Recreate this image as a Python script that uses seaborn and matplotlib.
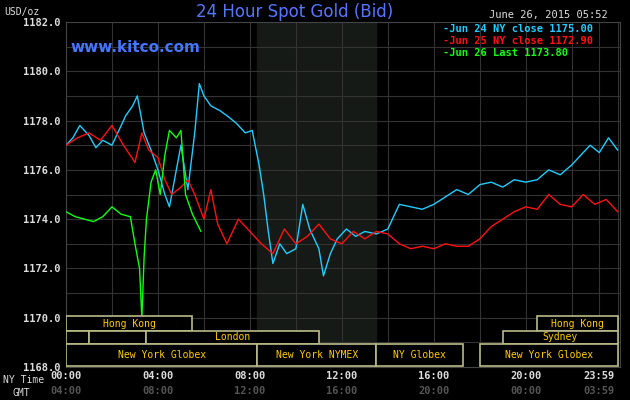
import matplotlib
matplotlib.use("Agg")
import matplotlib.pyplot as plt
import seaborn as sns
import pandas as pd

sns.set_style("dark")
plt.rcParams['font.family'] = ['DejaVu Sans Mono', 'DejaVu Sans']

# hours since 00:00 NY time, price
jun24_t = [0, 0.3, 0.6, 1.0, 1.3, 1.6, 2.0, 2.3, 2.6, 2.9, 3.1, 3.4, 3.7, 4.0, 4.3, 4.5, 4.8, 5.0, 5.3, 5.6, 5.8, 6.0,
           6.3, 6.7, 7.0, 7.4, 7.8, 8.1, 8.4, 8.6, 8.8, 9.0, 9.3, 9.6, 10.0, 10.3, 10.6, 11.0, 11.2, 11.5, 11.8, 12.2,
           12.6, 13.0, 13.5, 14.0, 14.5, 15.0, 15.5, 16.0, 16.5, 17.0, 17.5, 18.0, 18.5, 19.0, 19.5, 20.0, 20.5,
           21.0, 21.5, 22.0, 22.4, 22.8, 23.2, 23.6, 24.0]
jun24_p = [1177.0, 1177.3, 1177.8, 1177.4, 1176.9, 1177.2, 1177.0, 1177.6, 1178.2, 1178.6, 1179.0, 1177.5, 1176.8,
           1176.0, 1175.0, 1174.5, 1176.0, 1177.0, 1175.2, 1177.5, 1179.5, 1179.0, 1178.6, 1178.4, 1178.2, 1177.9,
           1177.5, 1177.6, 1176.2, 1175.0, 1173.5, 1172.2, 1173.0, 1172.6, 1172.8, 1174.6, 1173.6, 1172.8, 1171.7,
           1172.6, 1173.2, 1173.6, 1173.3, 1173.5, 1173.4, 1173.6, 1174.6, 1174.5, 1174.4, 1174.6, 1174.9, 1175.2,
           1175.0, 1175.4, 1175.5, 1175.3, 1175.6, 1175.5, 1175.6, 1176.0, 1175.8, 1176.2, 1176.6, 1177.0, 1176.7,
           1177.3, 1176.8]
jun25_t = [0, 0.5, 1.0, 1.5, 2.0, 2.5, 3.0, 3.3, 3.6, 4.0, 4.3, 4.6, 5.0, 5.3, 5.6, 6.0, 6.3, 6.6, 7.0, 7.5, 8.0,
           8.5, 9.0, 9.5, 10.0, 10.5, 11.0, 11.5, 12.0, 12.5, 13.0, 13.5, 14.0, 14.5, 15.0, 15.5, 16.0, 16.5,
           17.0, 17.5, 18.0, 18.5, 19.0, 19.5, 20.0, 20.5, 21.0, 21.5, 22.0, 22.5, 23.0, 23.5, 24.0]
jun25_p = [1177.0, 1177.3, 1177.5, 1177.2, 1177.8, 1177.0, 1176.3, 1177.5, 1176.8, 1176.5, 1175.6, 1175.0, 1175.3,
           1175.6, 1175.0, 1174.0, 1175.2, 1173.8, 1173.0, 1174.0, 1173.5, 1173.0, 1172.6, 1173.6, 1173.0, 1173.3,
           1173.8, 1173.2, 1173.0, 1173.5, 1173.2, 1173.5, 1173.4, 1173.0, 1172.8, 1172.9, 1172.8, 1173.0, 1172.9,
           1172.9, 1173.2, 1173.7, 1174.0, 1174.3, 1174.5, 1174.4, 1175.0, 1174.6, 1174.5, 1175.0, 1174.6, 1174.8,
           1174.3]
jun26_t = [0, 0.4, 0.8, 1.2, 1.6, 2.0, 2.4, 2.8, 3.0, 3.2, 3.3, 3.4, 3.5, 3.7, 3.9, 4.1, 4.3, 4.5, 4.8, 5.0,
           5.2, 5.5, 5.87]
jun26_p = [1174.3, 1174.1, 1174.0, 1173.9, 1174.1, 1174.5, 1174.2, 1174.1, 1173.0, 1172.0, 1170.0, 1172.5, 1174.0,
           1175.5, 1176.0, 1175.0, 1176.6, 1177.6, 1177.3, 1177.6, 1175.0, 1174.2, 1173.5]

legend_labels = ["Jun 24 NY close 1175.00", "Jun 25 NY close 1172.90", "Jun 26 Last 1173.80"]
colors = ["#22ccff", "#ff1111", "#11ff11"]

# session bands: (row, start, end, label)
sessions = [(0, 0, 5.5, "Hong Kong"), (0, 20.5, 24, "Hong Kong"),
            (1, 0, 1, ""), (1, 1, 3.5, ""), (1, 3.5, 11, "London"), (1, 19, 24, "Sydney"),
            (2, 0, 8.33, "New York Globex"), (2, 8.33, 13.5, "New York NYMEX"),
            (2, 13.5, 17.25, "NY Globex"), (2, 18, 24, "New York Globex")]

ny_ticks = [0, 4, 8, 12, 16, 20, 23.2]
ny_labels = ["00:00", "04:00", "08:00", "12:00", "16:00", "20:00", "23:59"]
gmt_labels = ["04:00", "08:00", "12:00", "16:00", "20:00", "00:00", "03:59"]

fig = plt.figure(figsize=(6.3, 4.0), dpi=100, facecolor="black")
ax = fig.add_axes([66 / 630, 1 - 367 / 400, 554 / 630, 345 / 400])
ax.set_facecolor("black")
ax.axvspan(8.33, 13.5, color="#161a16", zorder=0)

frames = []
for t, p, lab in [(jun24_t, jun24_p, legend_labels[0]), (jun25_t, jun25_p, legend_labels[1]),
                  (jun26_t, jun26_p, legend_labels[2])]:
    frames.append(pd.DataFrame({"t": t, "p": p, "s": lab}))
df = pd.concat(frames)
sns.lineplot(data=df, x="t", y="p", hue="s", palette=colors, linewidth=1.0, ax=ax, legend=False, zorder=3)

ax.set_xlim(0, 24.1)
ax.set_ylim(1168, 1182)
ax.set_yticks([1168 + 2 * i for i in range(8)])
ax.set_yticklabels([f"{1168 + 2 * i}.0" for i in range(8)], color="#dddddd", fontsize=7.5, fontweight="bold")
ax.set_yticks([1169 + 2 * i for i in range(7)], minor=True)
ax.set_xticks(range(0, 25, 2), minor=True)
ax.set_xticks(ny_ticks)
ax.set_xticklabels(ny_labels, color="#dddddd", fontsize=7.5, fontweight="bold")
ax.tick_params(length=0, which="both", pad=3)
ax.tick_params(axis="y", pad=4)
ax.grid(True, which="both", color="#333333", linewidth=0.8)
for s in ax.spines.values():
    s.set_color("#444444")
ax.set_xlabel("")
ax.set_ylabel("")
for x, g in zip(ny_ticks, gmt_labels):
    ax.text(x, -0.055, g, transform=ax.get_xaxis_transform(), ha="center", va="top",
            color="#555555", fontsize=7.5, fontweight="bold")

row_y = [(1169.45, 1170.05), (1168.95, 1169.45), (1168.05, 1168.95)]
for row, a, b, lab in sessions:
    y0, y1 = row_y[row]
    ax.add_patch(plt.Rectangle((a, y0), b - a, y1 - y0, facecolor="black", edgecolor="#bbbb88",
                               linewidth=1.2, zorder=4))
    if lab:
        ax.text((a + b) / 2, (y0 + y1) / 2, lab, color="#ffcc00", fontsize=7,
                ha="center", va="center", zorder=5)

fig.text(295 / 630, 1 - 12 / 400, "24 Hour Spot Gold (Bid)", color="#5577ff", fontsize=12,
         ha="center", va="center", family="DejaVu Sans")
fig.text(70 / 630, 1 - 48 / 400, "www.kitco.com", color="#4477ff", fontsize=11, fontweight="bold",
         ha="left", va="center", family="DejaVu Sans")
fig.text(4 / 630, 1 - 12 / 400, "USD/oz", color="#dddddd", fontsize=7, va="center")
fig.text(608 / 630, 1 - 15 / 400, "June 26, 2015 05:52", color="#dddddd", fontsize=7.5,
         ha="right", va="center")
for i, (lab, c) in enumerate(zip(legend_labels, colors)):
    fig.text(443 / 630, 1 - (29 + 12 * i) / 400, "-" + lab, color=c, fontsize=7.5,
             fontweight="bold", va="center")
fig.text(3 / 630, 1 - 380 / 400, "NY Time", color="#dddddd", fontsize=7, va="center")
fig.text(12 / 630, 1 - 393 / 400, "GMT", color="#dddddd", fontsize=7, va="center")

fig.savefig("out.png", dpi=100, facecolor="black")
